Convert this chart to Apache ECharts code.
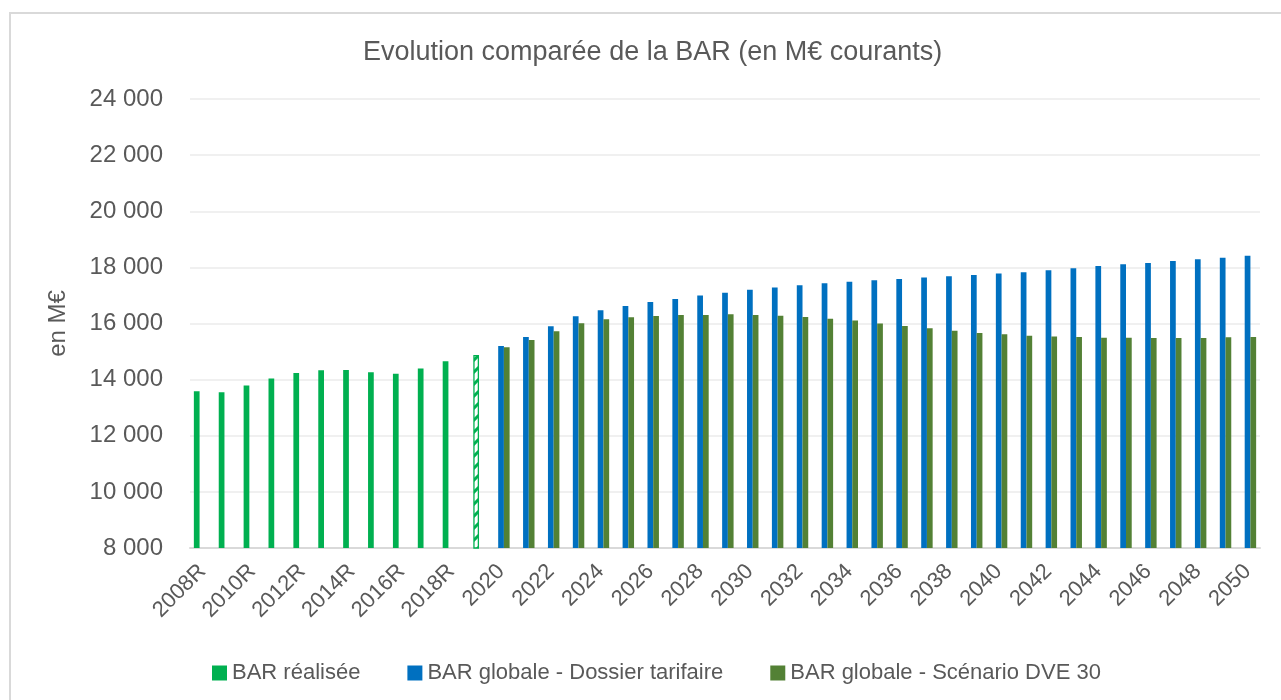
<!DOCTYPE html>
<html>
<head>
<meta charset="utf-8">
<title>Evolution comparée de la BAR</title>
<script src="https://cdn.jsdelivr.net/npm/echarts@6/dist/echarts.min.js"></script>
<style>
  html, body { margin: 0; padding: 0; background: #fff; overflow: hidden; }
  #frame { position: absolute; left: 9px; top: 12px; width: 1320px; height: 740px; border: 2px solid #d9d9d9; }
  #main { position: absolute; left: 0; top: 0; width: 1281px; height: 700px; }
</style>
</head>
<body>
<div id="frame"></div>
<div id="main"></div>
<script>
// années (R = réalisé)
const categories = ['2008R', '2009R', '2010R', '2011R', '2012R', '2013R', '2014R', '2015R', '2016R', '2017R', '2018R', '2019',
  '2020', '2021', '2022', '2023', '2024', '2025', '2026', '2027', '2028', '2029', '2030',
  '2031', '2032', '2033', '2034', '2035', '2036', '2037', '2038', '2039', '2040',
  '2041', '2042', '2043', '2044', '2045', '2046', '2047', '2048', '2049', '2050'];

// BAR réalisée 2008R..2018R
const barRealisee = [13590, 13550, 13790, 14040, 14240, 14335, 14345, 14265, 14205, 14395, 14655];
// 2019 estimé (barre hachurée)
const bar2019 = 14880;
// BAR globale - Dossier tarifaire 2020..2050
const barDossier = [15200, 15520, 15905, 16260, 16475, 16625, 16770, 16875, 16995, 17100, 17200,
  17280, 17365, 17435, 17485, 17545, 17590, 17635, 17685, 17730, 17780,
  17830, 17900, 17970, 18045, 18115, 18160, 18230, 18290, 18340, 18410];
// BAR globale - Scénario DVE 30 2020..2050
const barDve = [15155, 15410, 15725, 16010, 16155, 16225, 16270, 16305, 16305, 16330, 16305,
  16280, 16235, 16165, 16105, 16000, 15915, 15830, 15745, 15665, 15620,
  15560, 15535, 15520, 15495, 15490, 15485, 15485, 15485, 15510, 15520];

const yTicks = { min: 8000, max: 24000, interval: 2000 };

const GREEN = '#00B050', BLUE = '#0070C0', OLIVE = '#538135';
const TXT = '#595959';
const FONT = 'Liberation Sans';

// motif hachuré pour 2019
function hatch() {
  const c = document.createElement('canvas');
  c.width = 12; c.height = 12;
  const ctx = c.getContext('2d');
  ctx.fillStyle = GREEN;
  ctx.fillRect(0, 0, 12, 12);
  ctx.strokeStyle = '#ffffff';
  ctx.lineWidth = 5.5;
  [[-12, 12, 12, -12], [0, 12, 12, 0], [0, 24, 24, 0]].forEach(l => {
    ctx.beginPath(); ctx.moveTo(l[0], l[1]); ctx.lineTo(l[2], l[3]); ctx.stroke();
  });
  return c;
}

const nReal = barRealisee.length;
const realData = categories.map((c, i) => i < nReal ? barRealisee[i] : null);
const dossierData = categories.map((c, i) => {
  if (i === nReal) {
    return { value: bar2019, itemStyle: { color: { image: hatch(), repeat: 'repeat' }, borderColor: GREEN, borderWidth: 1.3 } };
  }
  return i > nReal ? barDossier[i - nReal - 1] : null;
});
const dveData = categories.map((c, i) => i > nReal ? barDve[i - nReal - 1] : null);

const chart = echarts.init(document.getElementById('main'));
chart.setOption({
  animation: false,
  backgroundColor: 'transparent',
  textStyle: { fontFamily: FONT },
  title: {
    text: 'Evolution comparée de la BAR (en M€ courants)',
    left: 358, top: 34,
    textStyle: { fontFamily: FONT, fontSize: 27, fontWeight: 'normal', color: TXT }
  },
  legend: {
    bottom: 11, left: 207,
    itemWidth: 15, itemHeight: 15, itemGap: 47,
    icon: 'rect',
    textStyle: { fontFamily: FONT, fontSize: 22, color: TXT, padding: [0, 0, 0, 0] },
    data: ['BAR réalisée', 'BAR globale - Dossier tarifaire', 'BAR globale - Scénario DVE 30']
  },
  grid: { left: 190, right: 21, top: 99, bottom: 152, containLabel: false },
  xAxis: {
    type: 'category',
    data: categories,
    axisTick: { show: false },
    axisLine: { lineStyle: { color: '#d9d9d9', width: 2 } },
    axisLabel: { interval: 1, rotate: 45, margin: 20, fontFamily: FONT, fontSize: 22, color: TXT }
  },
  yAxis: {
    type: 'value',
    min: yTicks.min, max: yTicks.max, interval: yTicks.interval,
    name: 'en M€',
    nameLocation: 'middle', nameRotate: 90, nameGap: 120,
    nameTextStyle: { fontFamily: FONT, fontSize: 24, color: TXT },
    axisLine: { show: false },
    axisTick: { show: false },
    axisLabel: {
      margin: 27, fontFamily: FONT, fontSize: 24, color: TXT,
      formatter: v => String(v).replace(/\B(?=(\d{3})+(?!\d))/g, ' ')
    },
    splitLine: { lineStyle: { color: '#ebebeb', width: 1.5 } }
  },
  series: [
    { name: 'BAR réalisée', type: 'bar', data: realData, barWidth: '23%', barGap: '0%', itemStyle: { color: GREEN } },
    { name: 'BAR globale - Dossier tarifaire', type: 'bar', data: dossierData, barWidth: '23%', barGap: '0%', itemStyle: { color: BLUE } },
    { name: 'BAR globale - Scénario DVE 30', type: 'bar', data: dveData, barWidth: '23%', barGap: '0%', itemStyle: { color: OLIVE } }
  ]
});
</script>
</body>
</html>
